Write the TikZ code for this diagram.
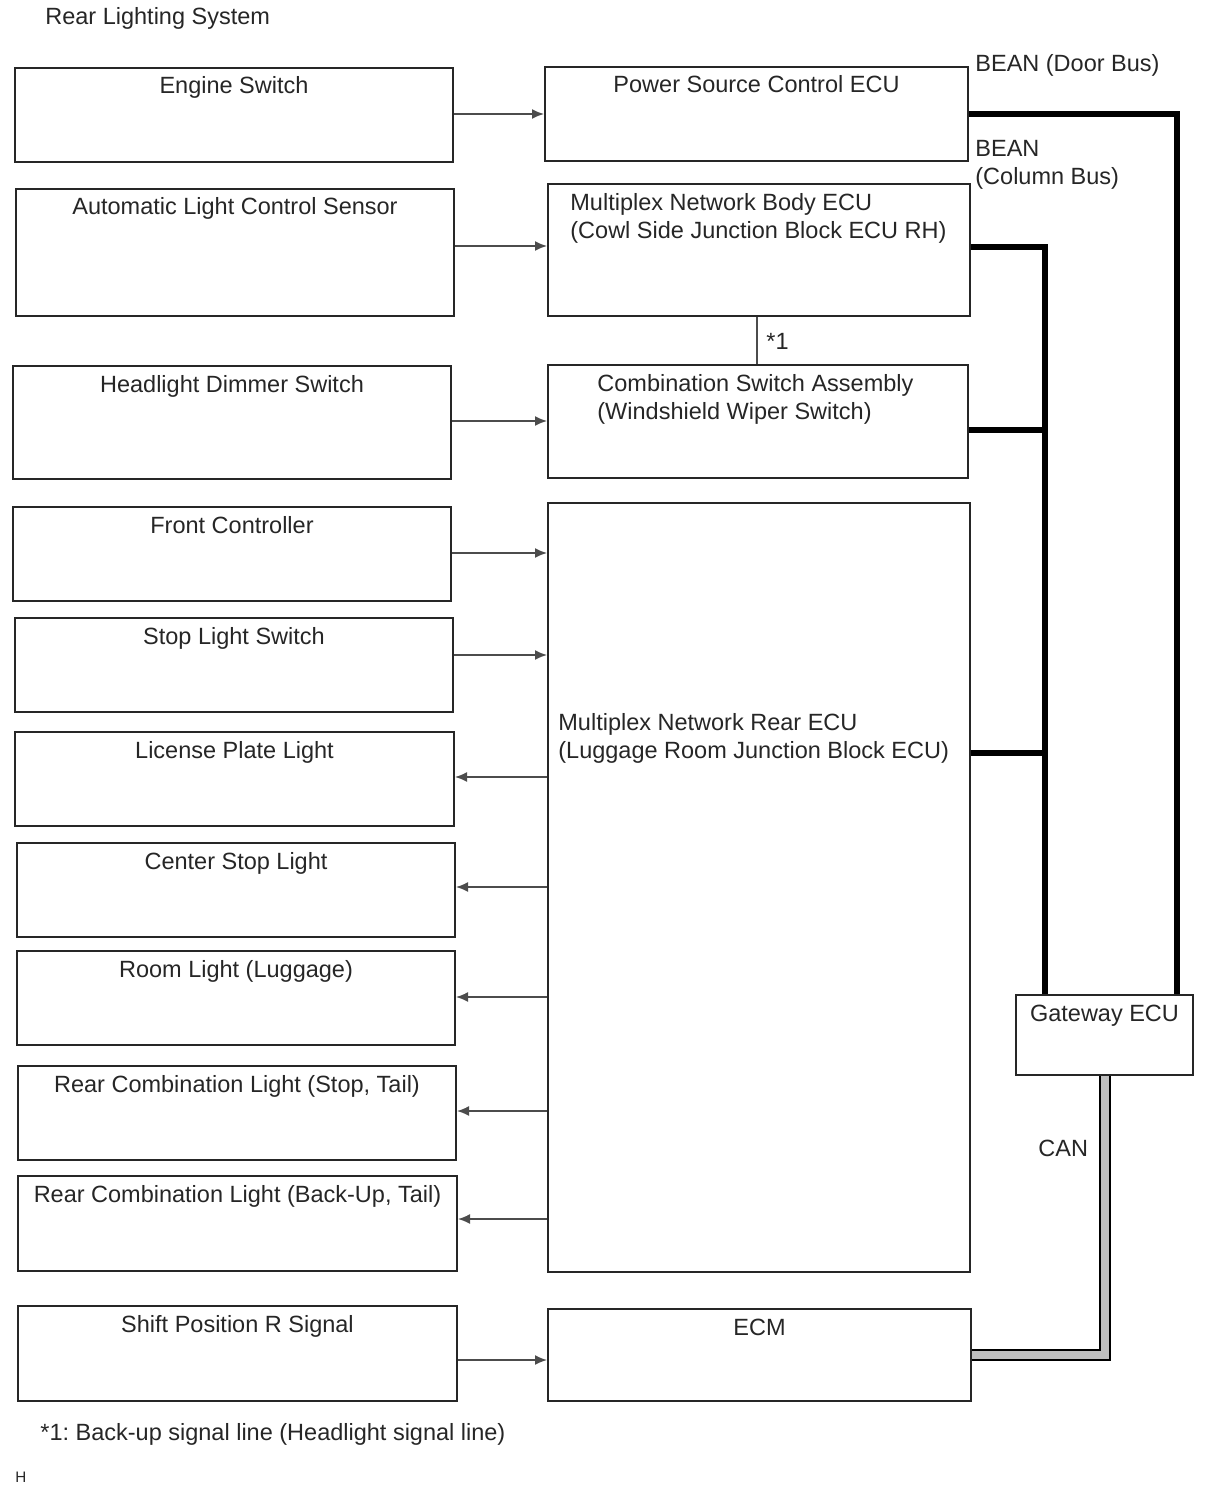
\documentclass[tikz,border=0pt]{standalone}
\usepackage{fontspec}
\setmainfont{Liberation Sans}
\frenchspacing
\usetikzlibrary{arrows.meta, positioning, fit}
\tikzset{%
	unit box/.style={
		draw=black!85,
		line width=1pt,
		inner sep=0pt
	},
	box text/.style={
		anchor=base,
		inner sep=0pt,
		text=black!85,
		font=\fontsize{11.75}{14}\selectfont
	},
	plain text/.style={
		box text,
		align=left
	},
	signal/.style={
		-{Latex[length=6pt,width=5pt]},
		line width=0.8pt,
		draw=black!70
	},
	bean bus/.style={
		line width=3pt,
		draw=black
	},
	can bus/.style={
		draw=black,
		line width=1pt,
		double=black!25,
		double distance=4pt
	},
}
\begin{document}
\begin{tikzpicture}[x=0.5pt, y=-0.5pt]
	\useasboundingbox (0,0) rectangle (1210,1498);
	% Title
	\node[plain text, anchor=base west] (title) at (45,25) {Rear Lighting System};
	% Left column
	\foreach \n/\xa/\ya/\xb/\yb/\t in {
		es/15/68/453/162/{Engine Switch},
		alcs/16/189/454/316/{Automatic Light Control Sensor},
		hds/13/366/451/479/{Headlight Dimmer Switch},
		fc/13/507/451/601/{Front Controller},
		sls/15/618/453/712/{Stop Light Switch},
		lpl/15/732/454/826/{License Plate Light},
		csl/17/843/455/937/{Center Stop Light},
		rl/17/951/455/1045/{Room Light (Luggage)},
		rcs/18/1066/456/1160/{Rear Combination Light (Stop, Tail)},
		rcb/18/1176/457/1271/{Rear Combination Light (Back-Up, Tail)},
		srs/18/1306/457/1401/{Shift Position R Signal}}
	{
		\node[unit box, fit={(\xa,\ya) (\xb,\yb)}] (\n) {};
		\node[box text] (\n-text) at ([yshift=-13.5pt]\n.north) {\t};
	}
	% Right column
	\foreach \n/\xa/\ya/\xb/\yb/\t in {
		psc/545/67/968/161/{Power Source Control ECU},
		ecm/548/1309/971/1401/{ECM},
		gw/1016/995/1193/1075/{Gateway ECU}}
	{
		\node[unit box, fit={(\xa,\ya) (\xb,\yb)}] (\n) {};
		\node[box text] (\n-text) at ([yshift=-13.5pt]\n.north) {\t};
	}
	\node[unit box, fit={(548,184) (970,316)}] (body) {};
	\node[unit box, fit={(548,365) (968,478)}] (comb) {};
	\node[unit box, fit={(548,503) (970,1272)}] (rear) {};
	\node[plain text, anchor=base west] (body-text) at (570,239)
		{Multiplex Network Body ECU\\(Cowl Side Junction Block ECU RH)};
	\node[plain text, anchor=base west] (comb-text) at (597,419)
		{Combination Switch Assembly\\(Windshield Wiper Switch)};
	\node[plain text, anchor=base west] (rear-text) at (558,758)
		{Multiplex Network Rear ECU\\(Luggage Room Junction Block ECU)};
	% Inputs
	\foreach \n/\y/\m in {es/114/psc, alcs/246/body, hds/421/comb, fc/553/rear, sls/655/rear, srs/1360/ecm}
	{
		\draw[signal] (\n.east |- 0,\y) -- (\m.west |- 0,\y);
	}
	% Outputs
	\foreach \n/\y in {lpl/777, csl/887, rl/997, rcs/1111, rcb/1219}
	{
		\draw[signal] (rear.west |- 0,\y) -- (\n.east |- 0,\y);
	}
	% Back-up signal line
	\draw[line width=0.8pt, draw=black!70] (body.south -| 757,0) -- (comb.north -| 757,0);
	\node[plain text, anchor=base west] (star-one) at (766,349) {*1};
	% Buses
	\coordinate (door bus) at (1177,0);
	\coordinate (column bus) at (1045,0);
	\draw[bean bus] (psc.east) -| (door bus |- gw.north);
	\draw[bean bus] (body.east |- 0,247) -| (column bus |- gw.north);
	\foreach \m/\y in {comb/430, rear/753}
	{
		\draw[bean bus] (\m.east |- 0,\y) -- (column bus |- 0,\y);
	}
	\draw[can bus] (gw.south) |- (ecm.east);
	% Bus labels
	\node[plain text, anchor=base west] (door-label) at (975,72) {BEAN (Door Bus)};
	\node[plain text, anchor=base west] (column-label) at (975,185) {BEAN\\(Column Bus)};
	\node[plain text, anchor=base west] (can-label) at (1038,1156) {CAN};
	% Footnote
	\node[plain text, anchor=base west] (note) at (40,1440) {*1: Back-up signal line (Headlight signal line)};
	\node[plain text, anchor=base west, font=\fontsize{7.6}{9}\selectfont] (code) at (15,1482) {H};
\end{tikzpicture}
\end{document}
